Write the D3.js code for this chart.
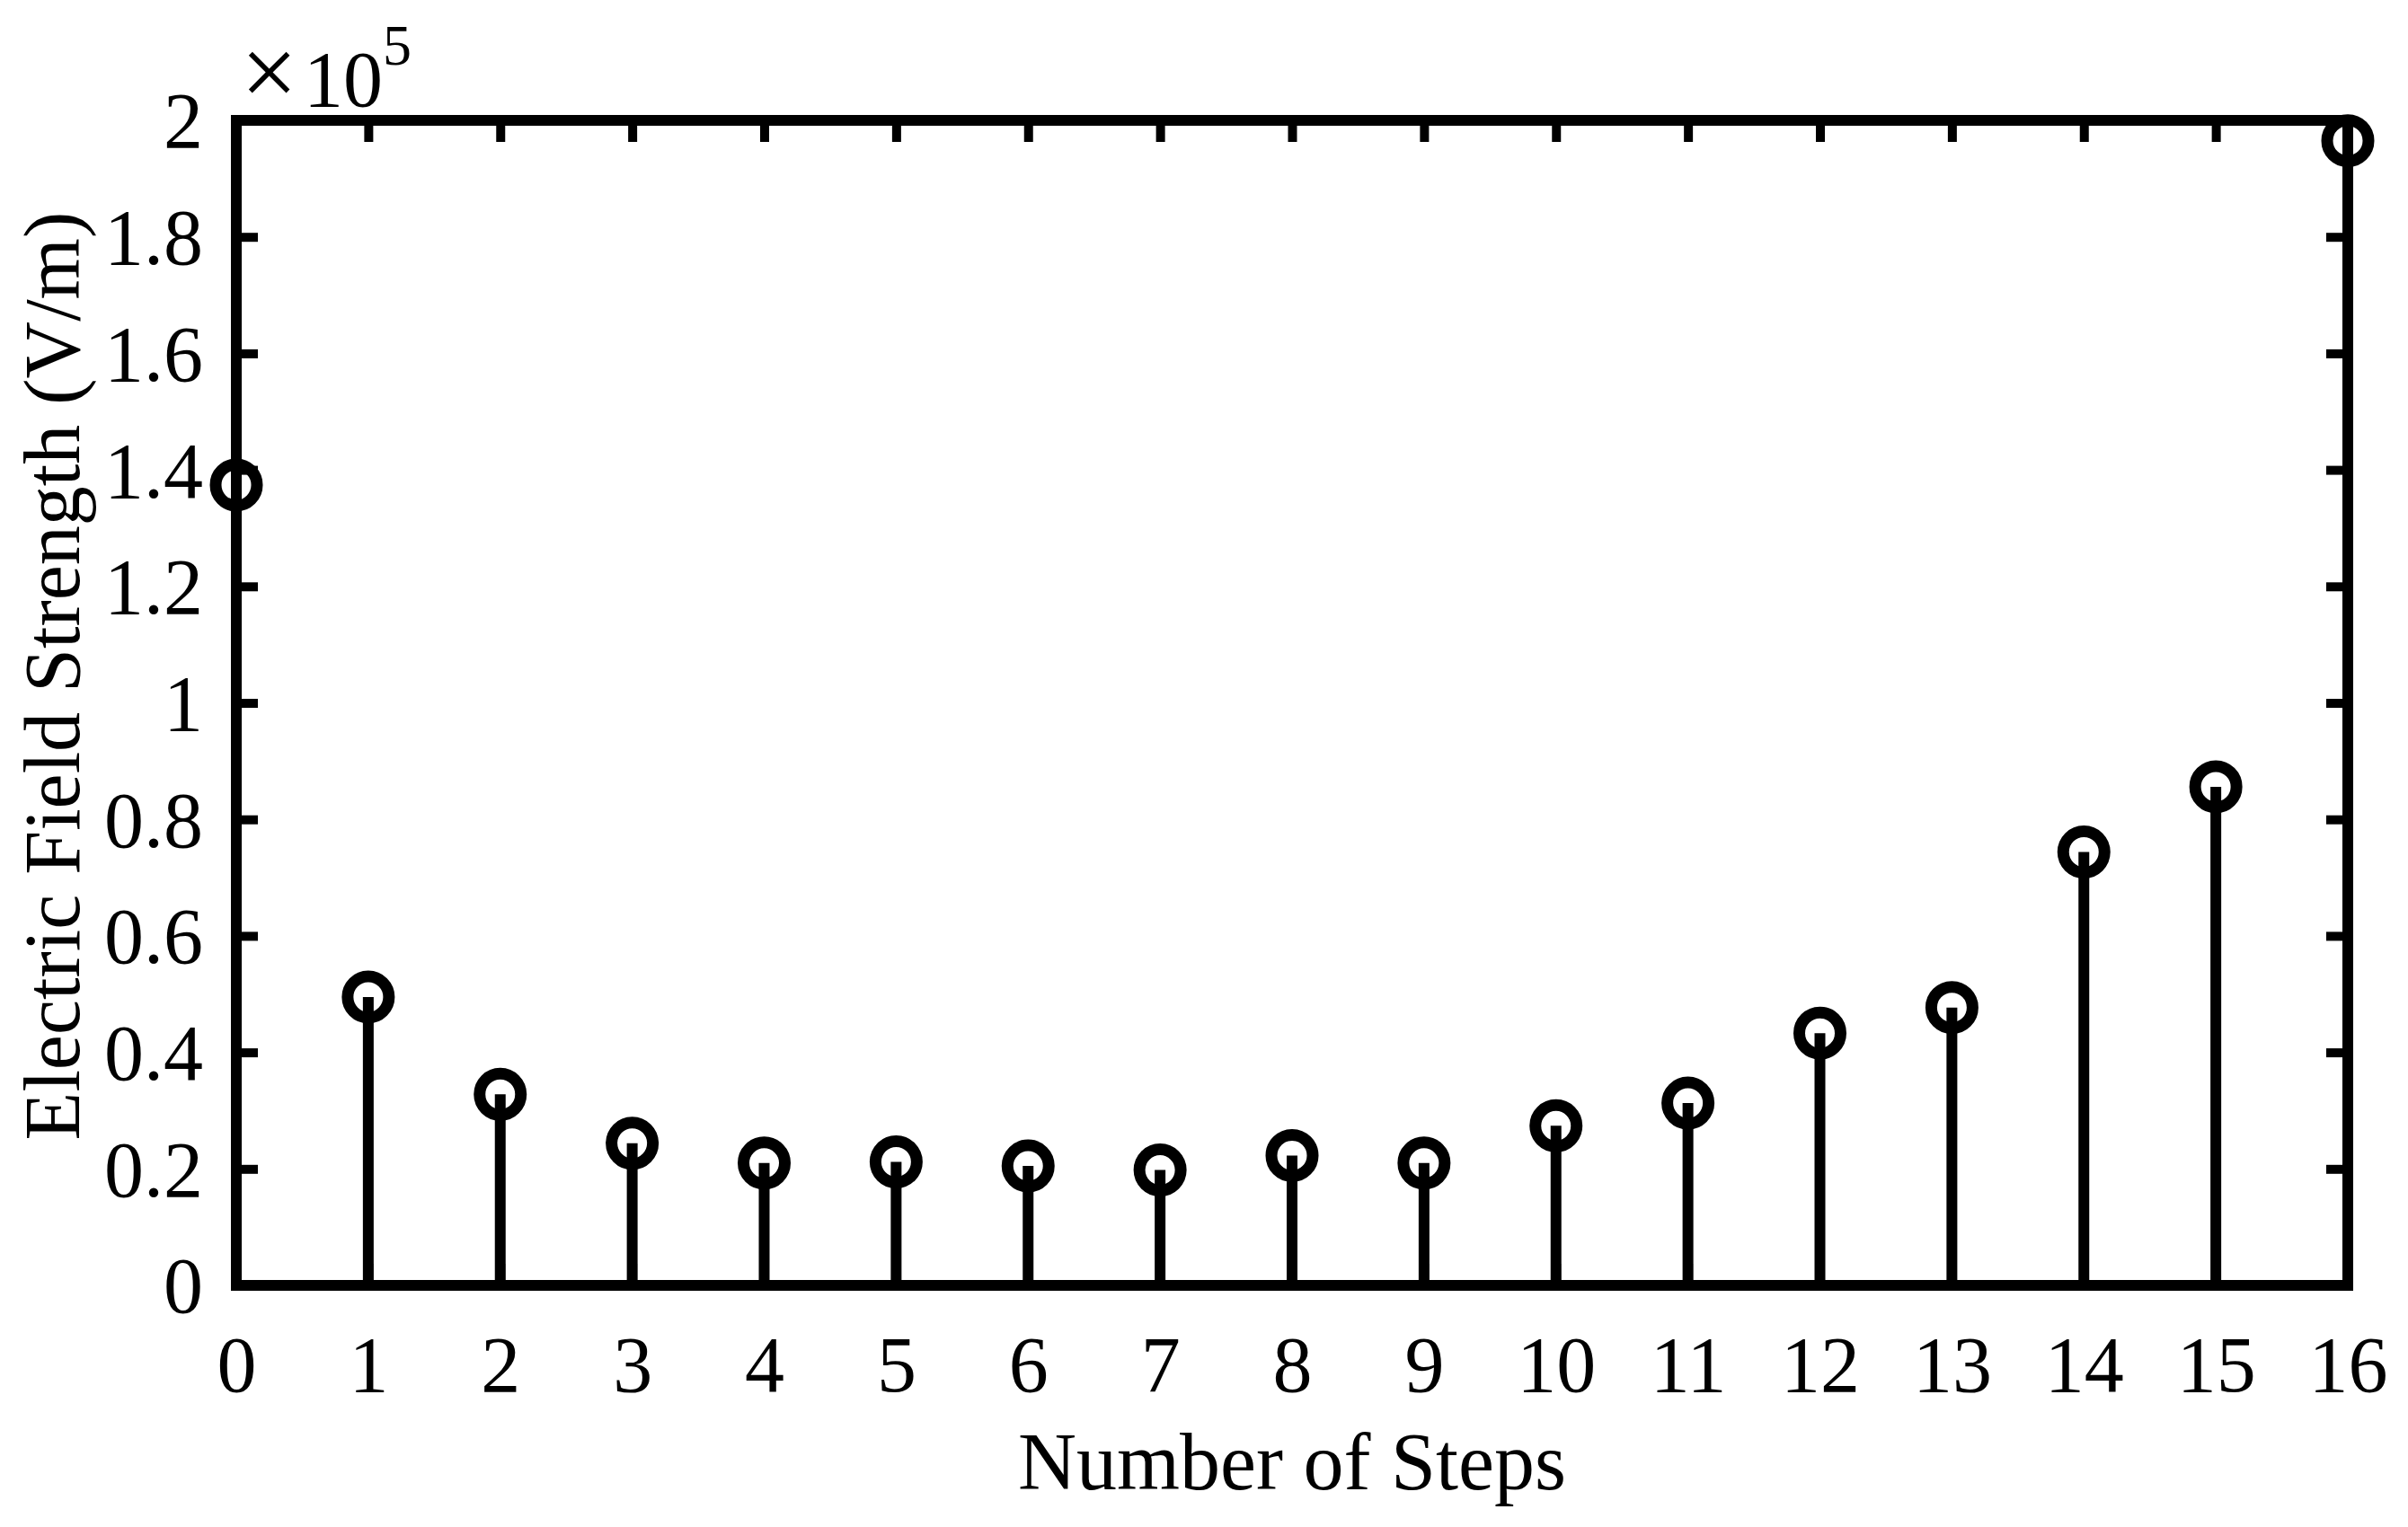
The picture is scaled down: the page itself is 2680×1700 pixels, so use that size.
<!DOCTYPE html>
<html>
<head>
<meta charset="utf-8">
<script src="https://cdn.jsdelivr.net/npm/d3@7"></script>
<style>
  html, body { margin: 0; padding: 0; background: #fff; }
  svg { display: block; }
  text { font-family: "Liberation Serif", "Times New Roman", serif; fill: #000; }
</style>
</head>
<body>
<svg id="chart" width="2680" height="1700"></svg>
<script>
// ---- data ----
const steps = [0, 1, 2, 3, 4, 5, 6, 7, 8, 9, 10, 11, 12, 13, 14, 15, 16];
const fieldStrength = [137400, 49500, 32800, 24400, 21000, 21200, 20500, 19800, 22300, 21000, 27400, 31300, 43300, 47700, 74400, 85600, 196500];
const yTickValues = [0, 20000, 40000, 60000, 80000, 100000, 120000, 140000, 160000, 180000, 200000];
const yTickLabels = ["0", "0.2", "0.4", "0.6", "0.8", "1", "1.2", "1.4", "1.6", "1.8", "2"];
const xLabel = "Number of Steps";
const yLabel = "Electric Field Strength (V/m)";

// ---- layout ----
const L = 263, R = 2613, T = 134, B = 1431;
const svg = d3.select("#chart");
const x = d3.scaleLinear().domain([0, 16]).range([L, R]);
const y = d3.scaleLinear().domain([0, 200000]).range([B, T]);
const fs = 88, tickLen = 24, lw = 12;

// axes
const gB = svg.append("g").attr("transform", `translate(0,${B})`)
  .call(d3.axisBottom(x).tickValues(steps).tickSize(-tickLen).tickPadding(56).tickFormat(d3.format("d")));
const gT = svg.append("g").attr("transform", `translate(0,${T})`)
  .call(d3.axisTop(x).tickValues(steps).tickSize(-tickLen).tickFormat(""));
const gL = svg.append("g").attr("transform", `translate(${L},0)`)
  .call(d3.axisLeft(y).tickValues(yTickValues).tickSize(-tickLen).tickPadding(37)
    .tickFormat((d, i) => yTickLabels[i]));
const gR = svg.append("g").attr("transform", `translate(${R},0)`)
  .call(d3.axisRight(y).tickValues(yTickValues).tickSize(-tickLen).tickFormat(""));

[gB, gT, gL, gR].forEach(g => {
  g.select(".domain").remove();
  g.selectAll(".tick line").attr("stroke", "#000").attr("stroke-width", 10);
  g.selectAll(".tick text").style("font-size", fs + "px").attr("fill", "#000")
    .style("font-family", '"Liberation Serif", serif');
});
gL.selectAll(".tick text").attr("dy", "0.34em");

// box
svg.append("rect")
  .attr("x", L).attr("y", T).attr("width", R - L).attr("height", B - T)
  .attr("fill", "none").attr("stroke", "#000").attr("stroke-width", lw)
  .attr("stroke-linejoin", "miter");

// stems
const data = steps.map((s, i) => ({ s, v: fieldStrength[i] }));
svg.append("g").selectAll("line").data(data).join("line")
  .attr("x1", d => x(d.s)).attr("x2", d => x(d.s))
  .attr("y1", y(0)).attr("y2", d => y(d.v))
  .attr("stroke", "#000").attr("stroke-width", 12);

// markers
svg.append("g").selectAll("circle").data(data).join("circle")
  .attr("cx", d => x(d.s)).attr("cy", d => y(d.v)).attr("r", 23)
  .attr("fill", "none").attr("stroke", "#000").attr("stroke-width", 13);

// exponent label
const ex = svg.append("text").attr("x", 268).attr("y", 118).style("font-size", fs + "px");
ex.append("tspan").style("font-size", "112px").text("\u00d7");
ex.append("tspan").attr("x", 338).text("10");
ex.append("tspan").attr("dy", -46).style("font-size", "64px").text("5");

// axis titles
svg.append("text").attr("x", (L + R) / 2).attr("y", 1658)
  .attr("text-anchor", "middle").style("font-size", "90px").text(xLabel);
svg.append("text").attr("transform", `translate(88,${(T + B) / 2 - 30}) rotate(-90)`)
  .attr("text-anchor", "middle").style("font-size", fs + "px").text(yLabel);
</script>
</body>
</html>
